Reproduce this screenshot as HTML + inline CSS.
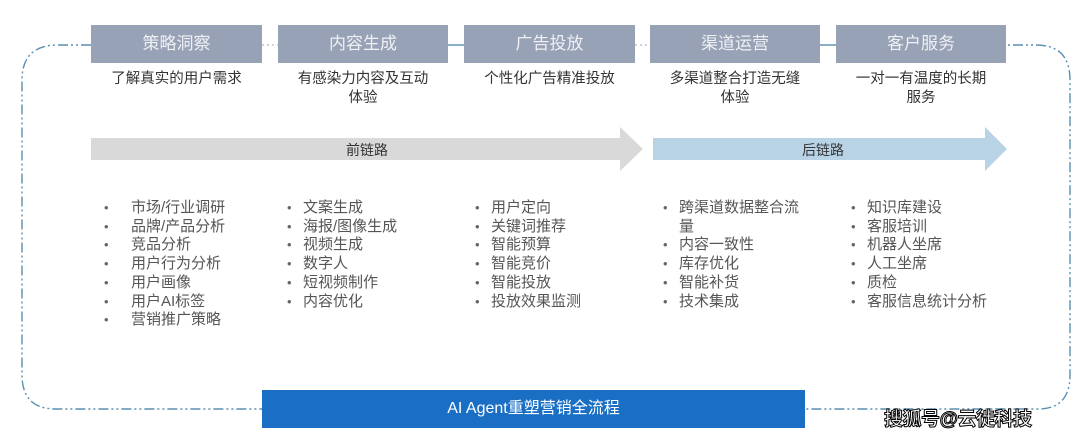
<!DOCTYPE html>
<html><head><meta charset="utf-8"><style>
*{margin:0;padding:0;box-sizing:border-box}
body{width:1080px;height:441px;background:#fff;position:relative;overflow:hidden;font-family:"Liberation Sans","Noto Sans CJK SC",sans-serif}
.h{position:absolute;top:25px;height:38px;background:#98a2b6;color:#eef0f4;font-size:17px;line-height:38px;text-align:center}
.s{position:absolute;top:70px;color:#333;font-size:14.5px;line-height:19px;text-align:center}
.l{position:absolute;top:199px;color:#555;font-size:15px;line-height:18.7px;list-style:none}
.l li{position:relative}
.l li::before{content:"•";position:absolute;color:#666;font-size:13px}
.c1 li::before{left:-27px}
.c li::before{left:-16px}
</style></head><body>
<svg width="1080" height="441" style="position:absolute;left:0;top:0">
<path d="M91 45 H58 Q22 45 22 80 V375 Q22 409 56 409 H1038 Q1070 409 1070 375 V80 Q1070 45 1036 45 H1006" fill="none" stroke="#5a8fb0" stroke-width="1.4" stroke-dasharray="10 3 2 3 2 3"/>
<line x1="262" y1="45" x2="278" y2="45" stroke="#9ab" stroke-dasharray="2 3"/>
<line x1="448" y1="45" x2="464" y2="45" stroke="#5a8fb0" stroke-width="1.4"/>
<line x1="635" y1="45" x2="650" y2="45" stroke="#9ab" stroke-dasharray="2 3"/>
<line x1="820" y1="45" x2="836" y2="45" stroke="#5a8fb0" stroke-width="1.4"/>
<polygon points="91,138 620,138 620,127 643,149 620,171 620,160 91,160" fill="#d9d9d9"/>
<polygon points="653,138 985,138 985,127 1007,149 985,171 985,160 653,160" fill="#b9d3e6"/>
<rect x="262" y="390" width="543" height="38" fill="#1a6fc4"/>
</svg>
<div class="h" style="left:91px;width:171px">策略洞察</div>
<div class="h" style="left:278px;width:170px">内容生成</div>
<div class="h" style="left:464px;width:171px">广告投放</div>
<div class="h" style="left:650px;width:170px">渠道运营</div>
<div class="h" style="left:836px;width:170px">客户服务</div>
<div class="s" style="left:91px;width:171px">了解真实的用户需求</div>
<div class="s" style="left:278px;width:170px">有感染力内容及互动<br>体验</div>
<div class="s" style="left:464px;width:171px">个性化广告精准投放</div>
<div class="s" style="left:650px;width:170px">多渠道整合打造无缝<br>体验</div>
<div class="s" style="left:836px;width:170px">一对一有温度的长期<br>服务</div>
<div style="position:absolute;left:91px;width:552px;top:140px;text-align:center;font-size:14px;color:#333">前链路</div>
<div style="position:absolute;left:653px;width:340px;top:140px;text-align:center;font-size:14px;color:#333">后链路</div>
<ul class="l c1" style="left:131px"><li>市场/行业调研</li><li>品牌/产品分析</li><li>竞品分析</li><li>用户行为分析</li><li>用户画像</li><li>用户AI标签</li><li>营销推广策略</li></ul>
<ul class="l c" style="left:303px"><li>文案生成</li><li>海报/图像生成</li><li>视频生成</li><li>数字人</li><li>短视频制作</li><li>内容优化</li></ul>
<ul class="l c" style="left:491px"><li>用户定向</li><li>关键词推荐</li><li>智能预算</li><li>智能竞价</li><li>智能投放</li><li>投放效果监测</li></ul>
<ul class="l c" style="left:679px"><li>跨渠道数据整合流<br>量</li><li>内容一致性</li><li>库存优化</li><li>智能补货</li><li>技术集成</li></ul>
<ul class="l c" style="left:867px"><li>知识库建设</li><li>客服培训</li><li>机器人坐席</li><li>人工坐席</li><li>质检</li><li>客服信息统计分析</li></ul>
<div style="position:absolute;left:262px;width:543px;top:390px;line-height:38px;text-align:center;color:#fff;font-size:16px">AI Agent重塑营销全流程</div>
<div style="position:absolute;left:884px;top:404px;font-size:19px;font-weight:bold;color:#fff;-webkit-text-stroke:1px #000;letter-spacing:-0.5px">搜狐号@云徙科技</div>
</body></html>
